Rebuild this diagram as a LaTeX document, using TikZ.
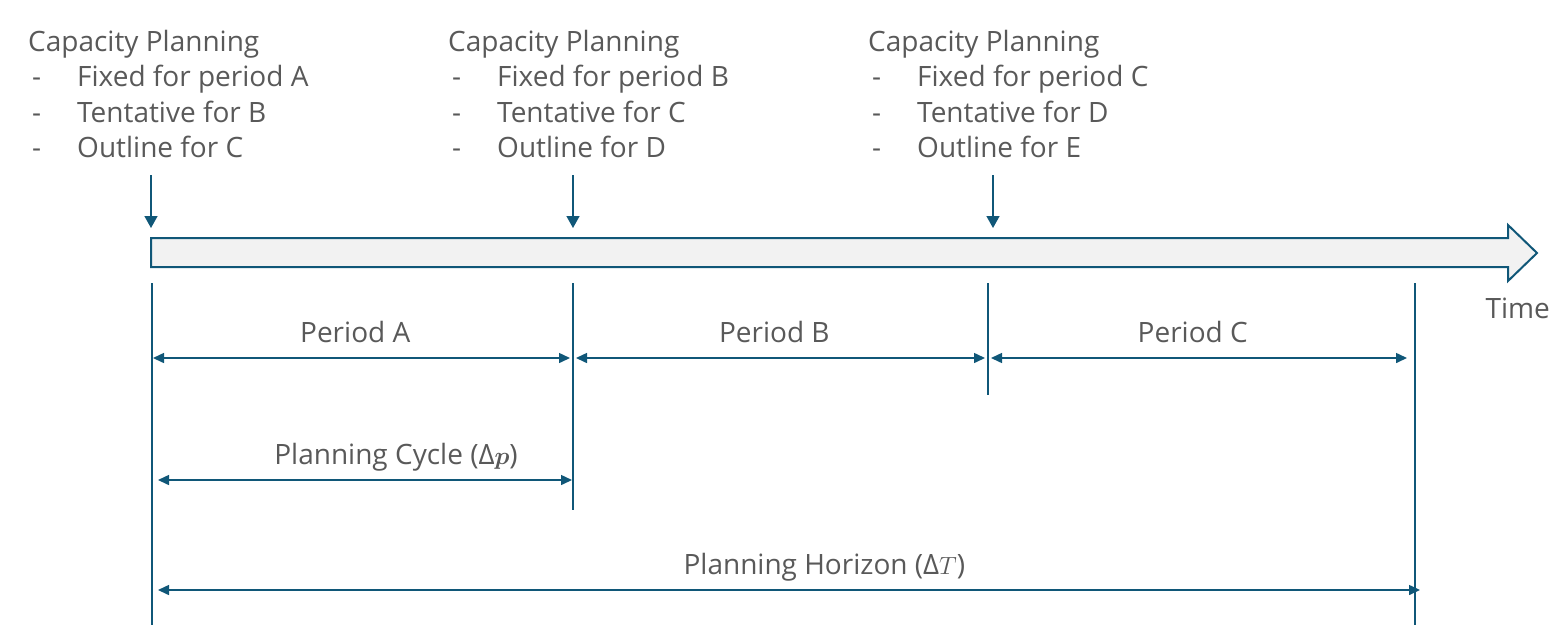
\documentclass[tikz,border=0pt]{standalone}
\usepackage{fontspec}
\setmainfont{Open Sans}
\usepackage{amsmath}
\usepackage{bm}
\usetikzlibrary{arrows.meta}
\usetikzlibrary{positioning}
\definecolor{planblue}{RGB}{16,87,120}
\definecolor{txtgray}{RGB}{89,89,89}
\definecolor{barfill}{RGB}{242,242,242}
\newcommand{\dashitem}{\makebox[49pt][l]{\hspace{4pt}-}}

\begin{document}
\begin{tikzpicture}[x=1pt,y=-1pt,
  every node/.style={font=\fontsize{28}{35.5}\selectfont, text=txtgray},
  plan/.style={align=left, anchor=north west, inner sep=0pt},
  tick/.style={draw=planblue, line width=1.2pt},
  drop/.style={draw=planblue, line width=1.5pt, -{Triangle[width=13pt,length=12pt]}},
  span/.style={draw=planblue, line width=1.5pt, {Triangle[width=10pt,length=11pt]}-{Triangle[width=10pt,length=11pt]}},
  spanlabel/.style={anchor=base, yshift=16pt}]
\useasboundingbox (0,0) rectangle (1566,641);

% planning notes
\node[plan] (cp1) at (28,30) {Capacity Planning\\ \dashitem Fixed for period A\\ \dashitem Tentative for B\\ \dashitem Outline for C};
\node[plan] (cp2) at (448,30) {Capacity Planning\\ \dashitem Fixed for period B\\ \dashitem Tentative for C\\ \dashitem Outline for D};
\node[plan] (cp3) at (868,30) {Capacity Planning\\ \dashitem Fixed for period C\\ \dashitem Tentative for D\\ \dashitem Outline for E};

% time axis
\draw[draw=planblue, line width=2pt, fill=barfill] (151,238) -- (1508,238) -- (1508,225) -- (1537,253) -- (1508,281) -- (1508,267) -- (151,267) -- cycle;
\node[anchor=base west] (time) at (1482,318) {Time};

\foreach \i/\x in {1/151,2/573,3/993} {
  \coordinate (top\i) at (\x,175);
  \coordinate (hit\i) at (\x,228);
  \draw[drop] (top\i) -- (hit\i);
}

% period boundaries
\foreach \n/\x/\y in {0/152/625,1/573/510,2/988/395,3/1415/625} {
  \coordinate (t\n) at (\x,283);
  \coordinate (b\n) at (\x,\y);
  \draw[tick] (t\n) -- (b\n);
}

\coordinate (pa1) at (153,358); \coordinate (pa2) at (570,358);
\coordinate (pb1) at (576,358); \coordinate (pb2) at (985,358);
\coordinate (pc1) at (991,358); \coordinate (pc2) at (1407,358);
\coordinate (cy1) at (158,480); \coordinate (cy2) at (572,480);
\coordinate (hz1) at (158,590); \coordinate (hz2) at (1420,590);

\draw[span] (pa1) -- node[spanlabel, pos=0.485] (perA) {Period A} (pa2);
\draw[span] (pb1) -- node[spanlabel, pos=0.485] (perB) {Period B} (pb2);
\draw[span] (pc1) -- node[spanlabel, pos=0.485] (perC) {Period C} (pc2);
\draw[span] (cy1) -- node[spanlabel, pos=0.575] (cycle) {Planning Cycle (Δ$\bm{p}$)} (cy2);
\draw[span] (hz1) -- node[spanlabel, pos=0.528] (horizon) {Planning Horizon (Δ$T$)} (hz2);
\end{tikzpicture}
\end{document}
